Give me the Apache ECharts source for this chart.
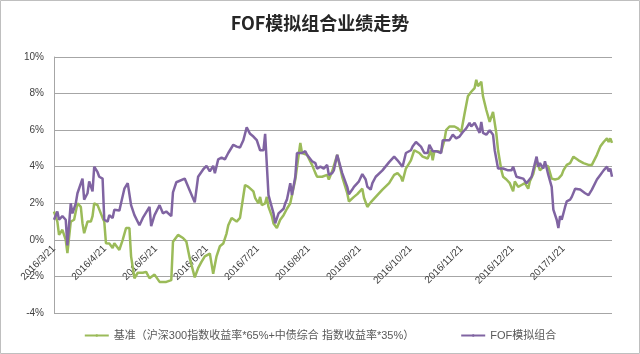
<!DOCTYPE html>
<html>
<head>
<meta charset="utf-8">
<script src="https://cdn.jsdelivr.net/npm/echarts@6/dist/echarts.min.js"></script>
<style>
    html, body { margin: 0; padding: 0; background: #fff; }
    #chart { width: 640px; height: 354px; }
</style>
</head>
<body>
<div id="chart"></div>
<script>
// x = calendar days since 2016/3/21, y = cumulative return in %
const monthLabels = ['2016/3/21', '2016/4/21', '2016/5/21', '2016/6/21', '2016/7/21', '2016/8/21',
    '2016/9/21', '2016/10/21', '2016/11/21', '2016/12/21', '2017/1/21'];

const benchDays = [0,2,3,5,7,8,10,12,14,16,17,18,20,22,23,24,26,29,30,31,33,35,36,39,41,43,45,46,48,50,
    53,55,57,60,63,67,70,71,72,74,77,79,81,84,86,88,90,93,94,95,97,99,101,103,104,106,107,109,111,113,
    114,116,119,120,122,123,124,126,127,128,130,131,133,135,137,139,141,142,144,147,148,151,154,156,157,160,163,164,166,169,
    170,172,175,176,179,181,184,185,187,189,192,196,200,203,205,207,208,210,211,213,215,216,218,220,223,225,226,227,229,231,
    233,234,236,239,241,243,245,247,249,251,252,253,255,256,258,260,261,262,264,265,267,268,270,272,274,275,277,279,281,283,
    284,286,288,290,291,293,295,297,299,301,303,304,306,308,310,313,316,319,321,322,324,326,328,330,331,332,333];
const benchRet = [1.55,1.0,0.27,0.55,0,-0.73,1.0,1.1,2.0,1.8,0.9,0.36,1.0,1.0,1.3,2.0,1.9,1.2,1.0,-0.18,-0.2,-0.45,-0.18,-0.55,0,0.65,0.65,-0.9,-2.1,-1.8,
    -1.8,-1.75,-2.1,-1.9,-2.3,-2.3,-2.2,-0.1,-0.2,0.27,0.1,-0.1,-1.0,-2.05,-1.55,-1.2,-0.9,-0.75,-1.3,-1.85,-0.9,-0.35,-0.2,0.36,0.8,1.2,1.1,1.0,1.2,2.4,
    3.0,2.9,2.65,2.3,2.0,2.35,1.9,2.0,2.35,1.8,1.3,0.9,0.65,1.1,1.35,1.7,2.0,1.9,3.3,5.3,4.75,4.65,4.1,3.65,3.45,3.45,3.55,3.3,3.75,4.65,
    4.65,3.45,2.55,2.1,2.35,2.5,2.8,2.3,1.8,2.05,2.35,2.75,3.1,3.55,3.65,3.45,3.2,3.9,4.0,4.35,4.9,5.0,4.75,4.55,4.45,4.9,4.35,4.85,4.85,4.8,
    5.45,6.0,6.2,6.2,6.1,5.9,6.9,7.85,8.1,8.3,8.75,8.4,8.65,7.85,7.1,6.45,6.55,7.0,5.8,4.9,3.8,3.45,3.3,3.1,2.65,3.2,2.9,3.0,3.1,2.8,
    3.2,3.6,4.35,3.8,3.9,4.1,4.0,3.35,3.3,3.35,3.55,3.8,4.1,4.2,4.55,4.35,4.2,4.1,4.1,4.0,4.65,5.1,5.35,5.55,5.35,5.55,5.3];

const fofDays = [0,2,3,5,7,8,10,11,13,14,17,18,20,21,23,24,26,27,29,30,32,33,35,36,39,40,42,44,46,48,
    51,53,57,58,60,63,65,67,70,71,73,78,81,84,86,89,91,93,95,96,98,100,102,104,107,109,111,113,115,117,
    119,121,122,123,125,126,128,129,131,132,134,137,138,139,141,142,144,145,148,150,151,154,156,157,159,161,163,164,166,167,
    169,170,172,175,176,178,179,182,184,186,187,189,190,192,196,200,203,205,208,210,211,213,214,216,217,219,221,223,224,226,
    228,231,232,234,236,238,240,242,244,246,248,249,251,252,254,255,256,258,260,262,263,265,266,268,271,273,274,276,278,280,
    282,283,285,286,288,289,290,292,293,295,297,298,300,301,302,303,305,306,308,309,311,314,317,319,321,322,324,326,328,330,
    331,332,333];
const fofRet = [1.1,1.55,1.1,1.3,1.1,-0.3,2.0,1.45,2.0,2.55,3.35,2.2,2.55,3.2,2.65,4.0,3.7,3.45,3.35,1.1,1.0,1.35,1.2,1.65,1.6,2.0,2.8,3.1,1.9,1.35,
    0.8,1.2,1.8,0.75,1.35,1.9,1.45,1.55,1.3,2.6,3.15,3.35,2.7,2.05,3.45,3.85,4.05,3.75,4.05,3.65,4.4,4.5,4.4,4.75,5.2,5.1,5.05,5.45,6.15,5.8,
    5.65,5.45,5.5,4.9,4.9,5.8,2.45,2.35,1.45,0.9,1.45,1.7,2.0,2.2,3.1,2.45,3.45,4.75,4.75,4.85,4.65,4.3,4.2,3.9,4.0,3.9,4.1,3.55,3.65,3.8,
    4.65,4.75,3.65,2.9,2.5,2.75,2.9,3.2,3.6,3.3,2.9,2.75,3.1,3.45,3.8,4.25,4.55,4.35,4.0,4.75,4.65,4.9,5.1,5.35,5.45,5.1,4.75,4.75,5.2,4.85,
    4.85,4.75,5.45,5.45,5.45,5.75,5.55,5.65,5.9,6.1,6.4,6.2,6.4,6.45,5.85,6.45,5.85,5.75,6.0,5.75,4.9,3.9,3.8,3.9,3.8,3.8,4.0,3.45,3.4,3.35,
    3.1,3.2,3.45,3.55,4.55,4.0,4.2,3.9,4.3,3.55,2.9,1.65,1.1,0.65,1.3,1.1,1.8,2.1,2.2,2.35,2.8,2.75,2.55,2.45,2.75,2.8,3.3,3.55,3.8,4.0,
    3.75,3.9,3.45];

const monthStep = 30.4;
const fontStack = "'Liberation Sans', 'Noto Sans CJK SC', sans-serif";

const zip = (xs, ys) => xs.map((x, i) => [x, ys[i]]);

const chart = echarts.init(document.getElementById('chart'));

// second grid ends at the 0% line, so its x axis carries the date labels there
chart.setOption({
    animation: false,
    textStyle: {fontFamily: fontStack},
    title: {
        text: 'FOF模拟组合业绩走势',
        left: 'center',
        top: 9,
        textStyle: {fontSize: 18, fontWeight: 'bold', color: '#262626', fontFamily: "'Noto Sans CJK SC', sans-serif"}
    },
    graphic: [{
        type: 'rect',
        shape: {x: 0.5, y: 0.5, width: 639, height: 353},
        style: {fill: 'none', stroke: '#bfbfbf', lineWidth: 1},
        silent: true
    }],
    legend: {
        top: 325,
        left: 'center',
        itemGap: 46,
        itemWidth: 24,
        itemHeight: 3,
        textStyle: {fontSize: 11, color: '#595959'},
        data: ['基准（沪深300指数收益率*65%+中债综合 指数收益率*35%）', 'FOF模拟组合']
    },
    grid: [
        {left: 54, right: 28, top: 57, bottom: 41},
        {left: 54, right: 28, top: 57, bottom: 114}
    ],
    xAxis: [
        {
            type: 'value',
            min: 0,
            max: 333,
            interval: monthStep,
            axisLine: {show: false},
            axisTick: {show: false},
            splitLine: {show: false},
            axisLabel: {show: false}
        },
        {
            gridIndex: 1,
            type: 'value',
            min: 0,
            max: 333,
            interval: monthStep,
            axisLine: {show: false},
            axisTick: {show: false},
            splitLine: {show: false},
            axisLabel: {
                rotate: 45,
                fontSize: 10,
                color: '#404040',
                margin: 7,
                showMaxLabel: false,
                formatter: (v) => {
                    const i = Math.round(v / monthStep);
                    return Math.abs(v - i * monthStep) < 1 && monthLabels[i] ? monthLabels[i] : '';
                }
            }
        }
    ],
    yAxis: [
        {
            type: 'value',
            min: -4,
            max: 10,
            interval: 2,
            axisLine: {show: true, lineStyle: {color: '#a6a6a6'}},
            axisTick: {show: false},
            splitLine: {lineStyle: {color: '#a6a6a6'}},
            axisLabel: {formatter: '{value}%', fontSize: 10, color: '#404040', margin: 10}
        },
        {
            gridIndex: 1,
            type: 'value',
            min: 0,
            max: 10,
            show: false
        }
    ],
    series: [
        {
            name: '基准（沪深300指数收益率*65%+中债综合 指数收益率*35%）',
            type: 'line',
            symbol: 'none',
            data: zip(benchDays, benchRet),
            lineStyle: {width: 2.5, color: '#9bbb59'},
            itemStyle: {color: '#9bbb59'}
        },
        {
            name: 'FOF模拟组合',
            type: 'line',
            symbol: 'none',
            data: zip(fofDays, fofRet),
            lineStyle: {width: 2.5, color: '#8064a2'},
            itemStyle: {color: '#8064a2'}
        }
    ]
});
</script>
</body>
</html>
